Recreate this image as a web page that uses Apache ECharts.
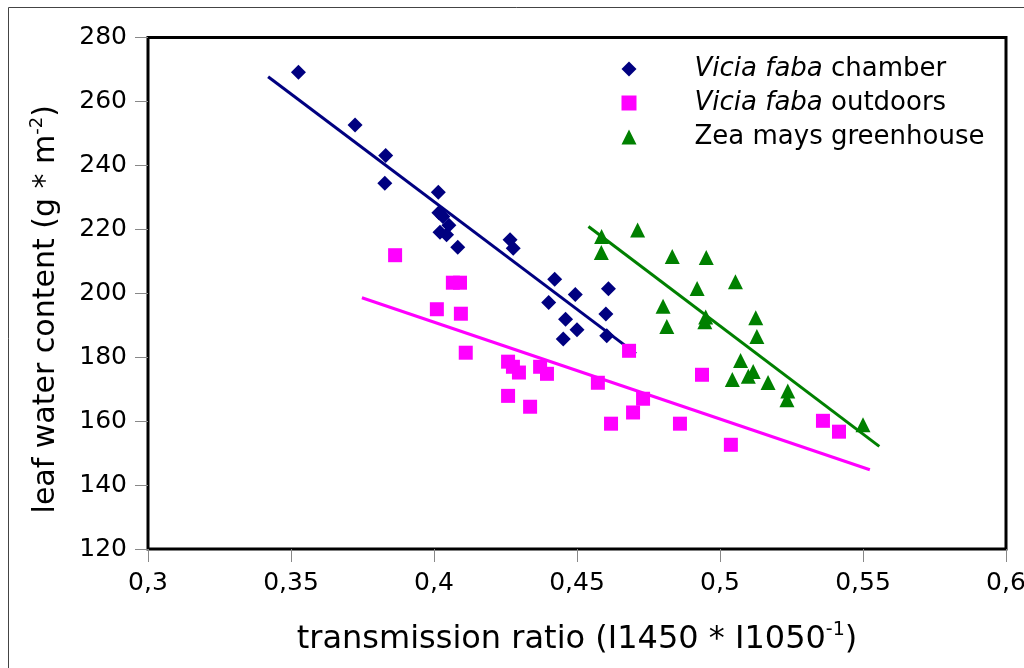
<!DOCTYPE html>
<html>
<head>
<meta charset="utf-8">
<style>
  html, body { margin: 0; padding: 0; background: #fff; }
  #main { width: 1024px; height: 668px; }
</style>
<script src="https://cdn.jsdelivr.net/npm/echarts@6/dist/echarts.min.js"></script>
</head>
<body>
<div id="main"></div>
<script>
// Vicia faba chamber
var chamberX = [0.3526, 0.3724, 0.3831, 0.3828, 0.4015, 0.4017, 0.4031, 0.4052, 0.4021, 0.4044, 0.4083, 0.4266, 0.4277, 0.4422, 0.4494, 0.4401, 0.4610, 0.4460, 0.4500, 0.4452, 0.4601, 0.4604]
var chamberY = [269.1, 252.6, 243.1, 234.4, 231.6, 225.2, 224.0, 221.3, 219.1, 218.3, 214.4, 216.7, 214.1, 204.4, 199.6, 197.1, 201.4, 191.9, 188.6, 185.7, 193.5, 186.7]
// Vicia faba outdoors
var outdoorX = [0.3864, 0.4010, 0.4066, 0.4091, 0.4094, 0.4111, 0.4259, 0.4276, 0.4297, 0.4371, 0.4395, 0.4259, 0.4336, 0.4573, 0.4682, 0.4731, 0.4696, 0.4619, 0.4860, 0.4937, 0.5038, 0.5360, 0.5416]
var outdoorY = [211.9, 195.0, 203.3, 203.3, 193.6, 181.4, 178.6, 177.0, 175.2, 177.0, 174.8, 167.9, 164.5, 172.0, 182.0, 167.0, 162.7, 159.2, 159.2, 174.5, 152.6, 160.1, 156.7]
// Zea mays greenhouse
var zeaX = [0.4586, 0.4585, 0.4712, 0.4833, 0.4952, 0.5054, 0.4920, 0.4801, 0.4950, 0.4947, 0.4814, 0.5125, 0.5129, 0.5072, 0.5043, 0.5099, 0.5116, 0.5168, 0.5237, 0.5234, 0.5500]
var zeaY = [217.75, 212.75, 219.8, 211.5, 211.2, 203.6, 201.5, 195.9, 192.6, 191.1, 189.6, 192.3, 186.5, 179.0, 173.0, 174.0, 175.5, 172.1, 169.4, 166.7, 158.9]

// trend lines (start / end)
var chamberLineX = [0.3420, 0.4706]
var chamberLineY = [267.7, 181.1]
var outdoorLineX = [0.3748, 0.5524]
var outdoorLineY = [198.6, 144.8]
var zeaLineX = [0.4540, 0.5557]
var zeaLineY = [220.9, 152.1]

var xTicks = { min: 0.3, max: 0.6, step: 0.05 }
var yTicks = { min: 120, max: 280, step: 20 }

function pairs(xs, ys) {
    var out = []
    for (var i = 0; i < xs.length; i++) {
        out.push([xs[i], ys[i]])
    }
    return out
}

var font = 'DejaVu Sans'
var navy = '#000080'
var pink = '#ff00ff'
var green = '#008000'

var myChart = echarts.init(document.getElementById('main'))

myChart.setOption({
    backgroundColor: '#fff',
    animation: false,
    graphic: [{
        type: 'rect',
        shape: { x: 8.5, y: 7.5, width: 1200, height: 1000 },
        style: { fill: 'none', stroke: '#444', lineWidth: 1 },
        silent: true
    }],
    grid: {
        left: 148, right: 18, top: 37.5, bottom: 119,
        show: true,
        borderColor: '#000',
        borderWidth: 3,
        containLabel: false,
        outerBoundsMode: 'none'
    },
    legend: {
        orient: 'vertical',
        left: 616.5,
        top: 47,
        itemWidth: 15,
        itemHeight: 15,
        itemGap: 0,
        data: ['Vicia faba chamber', 'Vicia faba outdoors', 'Zea mays greenhouse'],
        formatter: function (name) {
            if (name.indexOf('Vicia faba') == 0) {
                return '{g| }{i|Vicia faba}{t|' + name.slice(10) + '}'
            }
            return '{g| }{t|' + name + '}'
        },
        textStyle: {
            fontFamily: font,
            fontSize: 26,
            color: '#000',
            lineHeight: 34,
            rich: {
                g: { width: 53, fontSize: 26, fontFamily: font, lineHeight: 34 },
                i: { fontStyle: 'italic', fontSize: 26, fontFamily: font, color: '#000', lineHeight: 34 },
                t: { fontSize: 26, fontFamily: font, color: '#000', lineHeight: 34 }
            }
        }
    },
    xAxis: {
        type: 'value',
        min: xTicks.min,
        max: xTicks.max,
        interval: xTicks.step,
        splitLine: { show: false },
        axisLine: { show: false },
        axisTick: { show: true, length: 13, lineStyle: { color: '#888', width: 1 } },
        axisLabel: {
            fontFamily: font, fontSize: 25, color: '#000', margin: 22,
            formatter: function (v) { return String(+v.toFixed(2)).replace('.', ',') }
        },
        name: 'transmission ratio (I1450 * I1050{sup|-1})',
        nameLocation: 'middle',
        nameGap: 72,
        nameTextStyle: {
            fontFamily: font, fontSize: 32, color: '#000', lineHeight: 38,
            rich: {
                sup: { fontFamily: font, fontSize: 19, color: '#000', verticalAlign: 'top', lineHeight: 22 }
            }
        }
    },
    yAxis: {
        type: 'value',
        min: yTicks.min,
        max: yTicks.max,
        interval: yTicks.step,
        splitLine: { show: false },
        axisLine: { show: false },
        axisTick: { show: true, length: 13, lineStyle: { color: '#888', width: 1 } },
        axisLabel: { fontFamily: font, fontSize: 25, color: '#000', margin: 21 },
        name: 'leaf water content (g * m{sup|-2})',
        nameLocation: 'middle',
        nameRotate: 90,
        nameGap: 84,
        nameTextStyle: {
            fontFamily: font, fontSize: 30, color: '#000', lineHeight: 36,
            padding: [0, 32, 0, 0],
            rich: {
                sup: { fontFamily: font, fontSize: 18, color: '#000', verticalAlign: 'top', lineHeight: 20 }
            }
        }
    },
    series: [{
        name: 'chamber line',
        type: 'line',
        data: pairs(chamberLineX, chamberLineY),
        showSymbol: false,
        lineStyle: { color: navy, width: 3 },
        z: 1
    }, {
        name: 'outdoor line',
        type: 'line',
        data: pairs(outdoorLineX, outdoorLineY),
        showSymbol: false,
        lineStyle: { color: pink, width: 3 },
        z: 1
    }, {
        name: 'zea line',
        type: 'line',
        data: pairs(zeaLineX, zeaLineY),
        showSymbol: false,
        lineStyle: { color: green, width: 3 },
        z: 1
    }, {
        name: 'Vicia faba chamber',
        type: 'scatter',
        symbol: 'diamond',
        symbolSize: 15,
        data: pairs(chamberX, chamberY),
        itemStyle: { color: navy, opacity: 1 },
        z: 2
    }, {
        name: 'Vicia faba outdoors',
        type: 'scatter',
        symbol: 'rect',
        symbolSize: 14,
        data: pairs(outdoorX, outdoorY),
        itemStyle: { color: pink, opacity: 1 },
        z: 2
    }, {
        name: 'Zea mays greenhouse',
        type: 'scatter',
        symbol: 'triangle',
        symbolSize: 15,
        data: pairs(zeaX, zeaY),
        itemStyle: { color: green, opacity: 1 },
        z: 2
    }]
})
</script>
</body>
</html>
